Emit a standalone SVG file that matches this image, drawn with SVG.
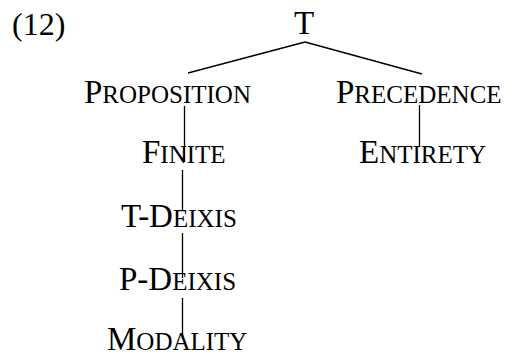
<svg xmlns="http://www.w3.org/2000/svg" width="505" height="356" viewBox="0 0 505 356">
<style>
text{font-family:"Liberation Serif","Times New Roman",serif;font-size:33px;fill:#000}
.sc{font-size:25px}
line{stroke:#000;stroke-width:1.3;fill:none}
</style>
<rect width="505" height="356" fill="#fff"/>
<g id="label"><text x="12" y="35" style="font-size:32px">(12)</text></g>
<g id="connectors">
<line x1="305" y1="42" x2="188" y2="73"/>
<line x1="305" y1="42" x2="422" y2="74"/>
<line x1="184.5" y1="106" x2="184.5" y2="162"/>
<line x1="182.5" y1="170" x2="182.5" y2="211"/>
<line x1="182.5" y1="233" x2="182.5" y2="278"/>
<line x1="182.5" y1="298" x2="182.5" y2="339"/>
<line x1="419.5" y1="105" x2="419.5" y2="147"/>
</g>
<g id="T"><text x="304" y="34" text-anchor="middle">T</text></g>
<g id="proposition"><text x="84" y="103">P<tspan class="sc">ROPOSITION</tspan></text></g>
<g id="precedence"><text x="336" y="103">P<tspan class="sc">RECEDENCE</tspan></text></g>
<g id="finite"><text x="142" y="163">F<tspan class="sc">INITE</tspan></text></g>
<g id="entirety"><text x="359" y="163">E<tspan class="sc">NTIRETY</tspan></text></g>
<g id="t-deixis"><text x="121" y="227">T-D<tspan class="sc">EIXIS</tspan></text></g>
<g id="p-deixis"><text x="119" y="290">P-D<tspan class="sc">EIXIS</tspan></text></g>
<g id="modality"><text x="107" y="350">M<tspan class="sc">ODALITY</tspan></text></g>
</svg>
